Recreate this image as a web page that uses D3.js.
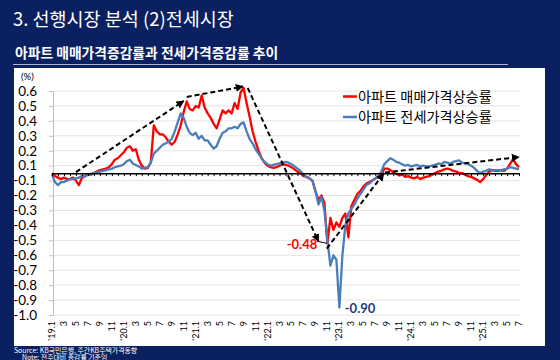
<!DOCTYPE html>
<html><head><meta charset="utf-8">
<script src="https://cdn.jsdelivr.net/npm/d3@7"></script>
<style>
html,body{margin:0;padding:0;background:#0b2060;}
svg{display:block;}
</style></head>
<body>
<svg id="c" width="560" height="360"></svg>
<script>
// ---- data (months since Jan 2019, semi-monthly) ----
const periods = d3.range(157).map(i => i / 2);
const saleRate = [
 0.00,-0.02,-0.03,-0.04,-0.03,-0.04,-0.04,-0.03,-0.05,-0.08,
-0.03,-0.02,-0.01,-0.01, 0.00, 0.01, 0.02,0.025, 0.03, 0.04,
 0.06, 0.09, 0.10, 0.12, 0.14, 0.17, 0.18, 0.15, 0.16, 0.09,
 0.05, 0.03,0.035, 0.07, 0.32, 0.28, 0.26, 0.26, 0.24, 0.21,
 0.19, 0.21, 0.26, 0.32, 0.41, 0.48, 0.43, 0.42, 0.45, 0.44,
 0.52, 0.44, 0.40, 0.37, 0.33, 0.30, 0.36, 0.42, 0.40, 0.42,
 0.40, 0.47, 0.43, 0.54, 0.57, 0.47, 0.38, 0.28, 0.21, 0.15,
 0.10, 0.07, 0.05, 0.04,0.035, 0.04, 0.05, 0.06,0.055, 0.05,
 0.04,0.025, 0.01, 0.00,-0.02,-0.025,-0.035,-0.05,-0.12,-0.18,
-0.15,-0.20,-0.47,-0.30,-0.38,-0.33,-0.36,-0.30,-0.27,-0.43,
-0.22,-0.18,-0.14,-0.12,-0.09,-0.07,-0.06,-0.05,-0.035,-0.025,
-0.01, 0.03, 0.03, 0.02,0.005,-0.005,-0.015,-0.01,-0.025,-0.02,
-0.03,-0.035,-0.025,-0.04,-0.03,-0.025,-0.02,-0.01, 0.00, 0.01,
0.015,0.025, 0.03,0.025,0.015, 0.01, 0.00, 0.00,-0.01,-0.02,
-0.025,-0.035,-0.045,-0.06,-0.04,-0.015,0.01,0.02,0.015,0.015,
 0.02,0.015, 0.03, 0.06,0.095, 0.06, 0.04
];
const jeonseRate = [
-0.01,-0.06,-0.08,-0.06,-0.06,-0.05,-0.04,-0.04,-0.035,-0.03,
-0.02,-0.02,-0.01,-0.005,0.00,0.005, 0.01,0.015, 0.02,0.025,
 0.03, 0.04,0.045, 0.05, 0.06, 0.08, 0.09,0.065,0.055,0.045,
 0.03,0.035, 0.04, 0.07, 0.13, 0.15, 0.17, 0.19, 0.20, 0.21,
 0.23, 0.28, 0.34, 0.40, 0.37, 0.31, 0.27,0.255, 0.27, 0.23,
 0.25, 0.22, 0.22, 0.19,0.165, 0.18, 0.23, 0.27, 0.28, 0.30,
 0.30, 0.31, 0.30, 0.33, 0.34, 0.28, 0.23, 0.20, 0.16, 0.13,
 0.10,0.075, 0.06, 0.05,0.055, 0.06,0.065, 0.07,0.075, 0.07,
 0.06,0.045, 0.03,0.015,-0.01,-0.025,-0.035,-0.05,-0.12,-0.21,
-0.16,-0.25,-0.45,-0.62,-0.55,-0.58,-0.90,-0.55,-0.35,-0.27,
-0.24,-0.21,-0.17,-0.14,-0.11,-0.08,-0.07,-0.05,-0.035,-0.02,
 0.01, 0.06, 0.08, 0.10, 0.09,0.075, 0.07, 0.06, 0.05,0.055,
0.045, 0.05,0.055,0.045, 0.05,0.045,0.045, 0.05,0.055,0.065,
 0.06,0.075, 0.07,0.065,0.075, 0.08,0.085, 0.07,0.065, 0.06,
 0.05,0.035,0.015, 0.00, 0.01,0.015,0.025, 0.02, 0.02, 0.02,
 0.02,0.025, 0.03, 0.04,0.035, 0.03,0.025
];
const seriesNames = ["아파트 매매가격상승률", "아파트 전세가격상승률"];
const seriesColors = ["#ff0000", "#4a7ebb"];
const yTickValues = [0.55,0.45,0.35,0.25,0.15,0.05,-0.05,-0.15,-0.25,-0.35,-0.45,-0.55,-0.65,-0.75,-0.85,-0.95];
const yTickLabels = ["0.6","0.5","0.4","0.3","0.2","0.1","-0.1","-0.2","-0.3","-0.4","-0.5","-0.6","-0.7","-0.8","-0.9","-1.0"];
const xTickValues = d3.range(0, 79, 2);
const xTickLabels = ["'19.1","3","5","7","9","11","'20.1","3","5","7","9","11",
 "'21.1","3","5","7","9","11","'22.1","3","5","7","9","11",
 "'23.1","3","5","7","9","11","'24.1","3","5","7","9","11",
 "'25.1","3","5","7"];
// trend arrows in data coords [month, value]
const trendArrows = [
 [[4.0,0.007],[22.0,0.483]],
 [[22.5,0.51],[31.9,0.58]],
 [[32.7,0.57],[44.5,-0.458]],
 [[45.9,-0.505],[55.4,-0.003]],
 [[55.6,0.004],[78.0,0.108]]
];
const leader = [[44.5,-0.458],[45.9,-0.47]];
const callouts = [
 {m:44.3, v:-0.48, text:"-0.48", color:"#ff0000", anchor:"end"},
 {m:48.9, v:-0.905, text:"-0.90", color:"#1f3d7a", anchor:"start"}
];

// ---- drawing ----
const svg = d3.select("#c");
const W = 560, H = 360;
svg.append("rect").attr("width",W).attr("height",H).attr("fill","#0b2060");

svg.append("text").attr("x",13).attr("y",25.5)
 .attr("font-family","'Noto Sans CJK KR', 'Noto Sans', sans-serif")
 .attr("font-size",18.5).attr("fill","#fff").text("3. 선행시장 분석 (2)전세시장");
svg.append("text").attr("x",15).attr("y",57.5)
 .attr("font-family","'Noto Sans CJK KR', sans-serif").attr("font-weight",700)
 .attr("font-size",13.8).attr("fill","#fff").text("아파트 매매가격증감률과 전세가격증감률 추이");
svg.append("line").attr("x1",13).attr("x2",508).attr("y1",64.5).attr("y2",64.5)
 .attr("stroke","#a9b4cc").attr("stroke-width",1);

svg.append("rect").attr("x",14).attr("y",68).attr("width",531).attr("height",278).attr("fill","#fff");

svg.append("text").attr("x",14).attr("y",352.5)
 .attr("font-family","'Noto Sans CJK KR', sans-serif").attr("font-size",6.9).attr("fill","#fff")
 .text("Source: KB국민은행, 주간KB주택가격동향");
svg.append("text").attr("x",22).attr("y",360)
 .attr("font-family","'Noto Sans CJK KR', sans-serif").attr("font-size",6.9).attr("fill","#fff")
 .text("Note: 전주대비 증감률 기준임");

const x = d3.scaleLinear().domain([0,78]).range([52,519]);
const y = d3.scaleLinear().domain([-0.95,0.55]).range([315,91]);

// gridlines
svg.append("g").selectAll("line").data(yTickValues).join("line")
 .attr("x1",53).attr("x2",520).attr("y1",d=>y(d)).attr("y2",d=>y(d))
 .attr("stroke","#e4e4e4").attr("stroke-width",1);

// y axis
const yAxis = d3.axisLeft(y).tickValues(yTickValues).tickSize(4).tickSizeOuter(0)
 .tickFormat((d,i)=>yTickLabels[i]);
const gy = svg.append("g").attr("transform","translate(53,0)").call(yAxis);
gy.select(".domain").attr("stroke","#bfbfbf");
gy.selectAll(".tick line").attr("stroke","#bfbfbf");
gy.selectAll(".tick text").attr("x",-16).attr("font-family","Lato, sans-serif")
 .attr("font-size",13.5).attr("fill","#000");
svg.append("text").attr("x",21).attr("y",80).attr("font-family","Lato, sans-serif")
 .attr("font-size",9.5).attr("fill","#000").text("(%)");

// x labels at bottom
svg.append("g").selectAll("text").data(xTickValues).join("text")
 .attr("transform",(d)=>`translate(${x(d)+3},321) rotate(-90)`)
 .attr("text-anchor","end").attr("font-family","Lato, sans-serif")
 .attr("font-size",9).attr("fill","#000").text((d,i)=>xTickLabels[i]);

// series
const line = d3.line().x((d,i)=>x(periods[i])).y(d=>y(d));
[saleRate, jeonseRate].forEach((s,k)=>{
 svg.append("path").datum(s).attr("d",line).attr("fill","none")
  .attr("stroke",seriesColors[k]).attr("stroke-width",2.3).attr("stroke-linejoin","round");
});

// zero axis with monthly ticks
const xAxis = d3.axisBottom(x).tickValues(d3.range(0,79,1)).tickSize(3).tickSizeOuter(0).tickFormat("");
const gx = svg.append("g").attr("transform",`translate(0,${y(0)})`).call(xAxis);
gx.select(".domain").attr("stroke","#000").attr("stroke-width",1.5);
gx.selectAll(".tick line").attr("stroke","#000");

// arrows
const defs = svg.append("defs");
defs.append("marker").attr("id","ah").attr("viewBox","0 0 10 10").attr("refX",9).attr("refY",5)
 .attr("markerWidth",4).attr("markerHeight",4).attr("orient","auto")
 .append("path").attr("d","M0,0L10,5L0,10z").attr("fill","#000");
svg.append("g").selectAll("line").data(trendArrows).join("line")
 .attr("x1",d=>x(d[0][0])).attr("y1",d=>y(d[0][1]))
 .attr("x2",d=>x(d[1][0])).attr("y2",d=>y(d[1][1]))
 .attr("stroke","#000").attr("stroke-width",2).attr("stroke-dasharray","5,3")
 .attr("marker-end","url(#ah)");
svg.append("line").attr("x1",x(leader[0][0])).attr("y1",y(leader[0][1]))
 .attr("x2",x(leader[1][0])).attr("y2",y(leader[1][1])).attr("stroke","#000").attr("stroke-width",1);

svg.append("g").selectAll("text").data(callouts).join("text")
 .attr("x",d=>x(d.m)).attr("y",d=>y(d.v)).attr("dy","0.35em")
 .attr("text-anchor",d=>d.anchor).attr("font-family","Lato, sans-serif").attr("font-weight",700)
 .attr("font-size",13).attr("fill",d=>d.color).text(d=>d.text);

// legend
const lg = svg.append("g");
seriesNames.forEach((n,i)=>{
 const yy = 96.5 + i*20.5;
 lg.append("line").attr("x1",343).attr("x2",357).attr("y1",yy).attr("y2",yy)
  .attr("stroke",seriesColors[i]).attr("stroke-width",2.5);
 lg.append("text").attr("x",358).attr("y",yy).attr("dy","0.36em")
  .attr("font-family","'Noto Sans CJK KR', sans-serif").attr("font-size",14.2)
  .attr("fill","#000").text(n);
});
</script>
</body></html>
